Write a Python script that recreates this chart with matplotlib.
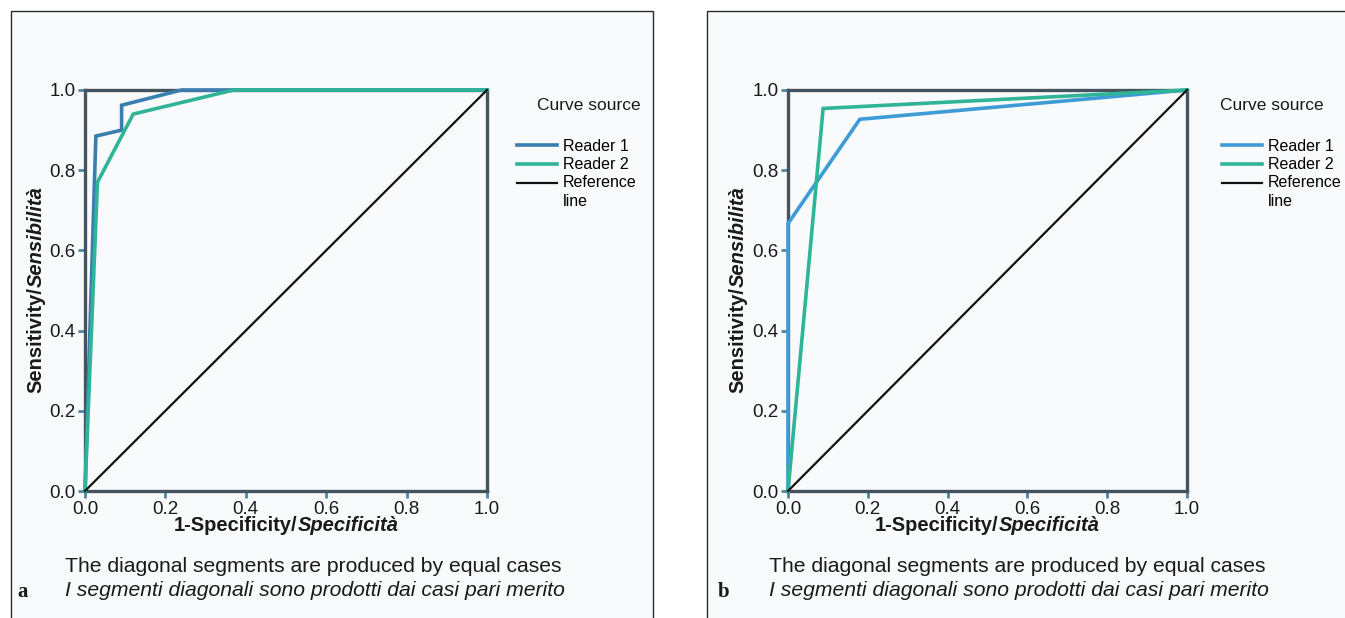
import matplotlib.pyplot as plt
from matplotlib.patches import Rectangle

plt.rcParams['font.family'] = ['Liberation Sans', 'DejaVu Sans']

W, H = 1345, 618

# ROC points (1 - specificity, sensitivity)
fpr_a_r1 = [0.0, 0.027, 0.091, 0.091, 0.24, 1.0]
tpr_a_r1 = [0.0, 0.885, 0.900, 0.962, 1.0, 1.0]
fpr_a_r2 = [0.0, 0.031, 0.120, 0.37, 1.0]
tpr_a_r2 = [0.0, 0.770, 0.940, 1.0, 1.0]

fpr_b_r1 = [0.0, 0.0, 0.18, 1.0]
tpr_b_r1 = [0.0, 0.667, 0.927, 1.0]
fpr_b_r2 = [0.0, 0.088, 1.0]
tpr_b_r2 = [0.0, 0.954, 1.0]

ref_line = [0.0, 1.0]
ticks = [0.0, 0.2, 0.4, 0.6, 0.8, 1.0]
tick_labels = ["0.0", "0.2", "0.4", "0.6", "0.8", "1.0"]
legend_labels = ["Reader 1", "Reader 2", "Reference\nline"]

caption_en = "The diagonal segments are produced by equal cases"
caption_it = "I segmenti diagonali sono prodotti dai casi pari merito"

SPINE = '#44545e'
TICKC = '#4f86a3'
BG = '#f9fafc'


def px(x, y):
    # pixel position (from top-left) -> figure fraction
    return x / W, 1 - y / H


fig = plt.figure(figsize=(W / 100, H / 100), dpi=100)
renderer = fig.canvas.get_renderer()


def two_part(x, y, first, second, size, vertical=False):
    """bold + bold-italic text centred on (x, y) in pixels"""
    kw = dict(fontsize=size, fontweight='bold', color='#1a1a1a',
              transform=fig.transFigure)
    if not vertical:
        t1 = fig.text(0, 0, first, ha='left', va='baseline', **kw)
        t2 = fig.text(0, 0, second, ha='left', va='baseline', style='italic', **kw)
        w1 = t1.get_window_extent(renderer).width
        w2 = t2.get_window_extent(renderer).width
        x0 = x - (w1 + w2) / 2
        t1.set_position(px(x0, y))
        t2.set_position(px(x0 + w1, y))
    else:
        t1 = fig.text(0, 0, first, ha='center', va='bottom', rotation=90, **kw)
        t2 = fig.text(0, 0, second, ha='center', va='bottom', rotation=90,
                      style='italic', **kw)
        h1 = t1.get_window_extent(renderer).height
        h2 = t2.get_window_extent(renderer).height
        y0 = y + (h1 + h2) / 2   # bottom of the stack in pixels from top
        t1.set_position(px(x, y0))
        t2.set_position(px(x, y0 - h1))


panels = [
    dict(frame=(11, 653), ax=(85, 487), letter='a', letter_x=17, cap_x=65,
         legend_x=517, title_x=537, ylab_x=36,
         r1=(fpr_a_r1, tpr_a_r1, '#3a7eb0'), r2=(fpr_a_r2, tpr_a_r2, '#2fb497')),
    dict(frame=(707, 1360), ax=(788, 1187), letter='b', letter_x=718, cap_x=769,
         legend_x=1222, title_x=1220, ylab_x=738,
         r1=(fpr_b_r1, tpr_b_r1, '#3d9bd6'), r2=(fpr_b_r2, tpr_b_r2, '#2fb497')),
]

for p in panels:
    fx0, fx1 = p['frame']
    fig.patches.append(Rectangle(px(fx0, H + 5), (fx1 - fx0) / W, (H + 5 - 11) / H,
                                 transform=fig.transFigure, facecolor=BG,
                                 edgecolor='#2a2a2a', linewidth=1.0, zorder=-5))

    ax0, ax1 = p['ax']
    ax = fig.add_axes([ax0 / W, 1 - 491 / H, (ax1 - ax0) / W, 401 / H])
    ax.set_facecolor('none')
    ax.set_xlim(0, 1)
    ax.set_ylim(0, 1)

    x1, y1, c1 = p['r1']
    x2, y2, c2 = p['r2']
    h1, = ax.plot(x1, y1, color=c1, lw=2.6, zorder=4, clip_on=False,
                  solid_joinstyle='miter')
    h2, = ax.plot(x2, y2, color=c2, lw=2.6, zorder=5, clip_on=False,
                  solid_joinstyle='miter')
    h3, = ax.plot(ref_line, ref_line, color='#111111', lw=1.6, zorder=6,
                  clip_on=False)

    for s in ax.spines.values():
        s.set_color(SPINE)
        s.set_linewidth(2.4)
        s.set_zorder(3)

    ax.set_xticks(ticks, tick_labels)
    ax.set_yticks(ticks, tick_labels)
    ax.tick_params(direction='out', length=5, width=2, color=TICKC,
                   labelsize=13.5, labelcolor='#1a1a1a', pad=2)

    leg = ax.legend([h1, h2, h3], legend_labels, loc='upper left',
                    bbox_to_anchor=px(p['legend_x'], 139),
                    bbox_transform=fig.transFigure, frameon=False, fontsize=11.5,
                    handlelength=2.5, handletextpad=0.35, labelspacing=0.2,
                    borderpad=0, borderaxespad=0)
    for t in leg.get_texts():
        t.set_linespacing(1.3)
    # handle of the two-line entry sits on its first line, as in the original
    ref_handle = leg.legend_handles[2]
    ref_handle.set_ydata([v + 7 for v in ref_handle.get_ydata()])
    fig.text(*px(p['title_x'], 105), "Curve source", fontsize=12.5,
             ha='left', va='center', color='#1a1a1a')

    two_part((ax0 + ax1) / 2, 531, "1-Specificity/", "Specificità", 14.5)
    two_part(p['ylab_x'], 290, "Sensitivity/", "Sensibilità", 14.5, vertical=True)

    fig.text(*px(p['cap_x'], 567), caption_en, fontsize=15.2, ha='left',
             va='center', color='#1a1a1a')
    fig.text(*px(p['cap_x'], 591), caption_it, fontsize=15.2, ha='left',
             va='center', style='italic', color='#1a1a1a')
    fig.text(*px(p['letter_x'], 592), p['letter'], fontsize=15, ha='left',
             va='center', fontweight='bold', family='Liberation Serif',
             color='#1a1a1a')

fig.savefig("out.png", dpi=100, facecolor='white')
